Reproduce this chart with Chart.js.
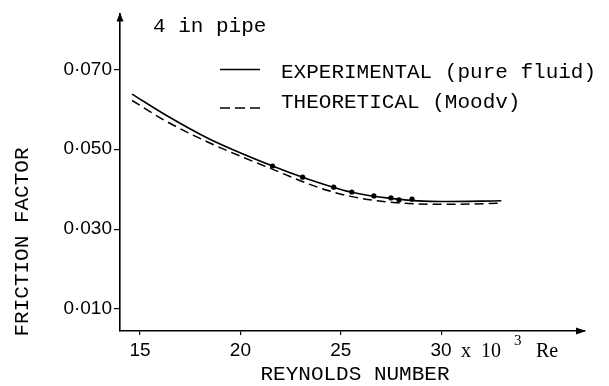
<!DOCTYPE html>
<html>
<head>
<meta charset="utf-8">
<script src="https://cdn.jsdelivr.net/npm/chart.js@4.4.1/dist/chart.umd.min.js"></script>
<style>
  html, body { margin: 0; padding: 0; background: #fff; }
</style>
</head>
<body>
<canvas id="graphique" width="609" height="386"></canvas>
<script>
// courbe experimentale (trait plein)
const reynolds_exp = [14.6, 16.3, 18.4, 21.6, 23.1, 25.5, 27.5, 30.0, 33.0]
const friction_exp = [0.0638, 0.0585, 0.0527, 0.0458, 0.0430, 0.0393, 0.0377, 0.0369, 0.0371]
// courbe theorique Moody (tirets)
const reynolds_th = [14.6, 16.3, 18.5, 21.5, 23.85, 25.5, 27.8, 30.5, 33.0]
const friction_th = [0.0622, 0.0570, 0.0515, 0.0452, 0.0405, 0.0382, 0.0366, 0.0362, 0.0365]
// points mesures
const reynolds_pts = [21.6, 23.1, 24.65, 25.55, 26.65, 27.5, 27.9, 28.55]
const friction_pts = [0.0458, 0.0430, 0.0405, 0.0393, 0.0383, 0.0378, 0.0373, 0.0375]

const x_ticks = [15, 20, 25, 30]
const y_ticks = [0.010, 0.030, 0.050, 0.070]
const y_labels = ['0·010', '0·030', '0·050', '0·070']

const toPoints = (xs, ys) => xs.map((x, i) => ({ x: x, y: ys[i] }))

const MONO = '"Liberation Mono", "DejaVu Sans Mono", monospace'
const tickFont = { family: '"Liberation Sans", Arial, sans-serif', size: 19 }

const annotations = {
  id: 'annotations',
  afterDraw(chart) {
    const ctx = chart.ctx
    const a = chart.chartArea
    ctx.save()
    ctx.fillStyle = '#000'
    ctx.strokeStyle = '#000'

    // fleches des axes
    ctx.beginPath()
    ctx.moveTo(a.left, a.top - 1)
    ctx.lineTo(a.left - 3.5, a.top + 8)
    ctx.lineTo(a.left + 3.5, a.top + 8)
    ctx.closePath()
    ctx.fill()
    ctx.beginPath()
    ctx.moveTo(a.right + 1, a.bottom)
    ctx.lineTo(a.right - 9, a.bottom - 3.5)
    ctx.lineTo(a.right - 9, a.bottom + 3.5)
    ctx.closePath()
    ctx.fill()

    ctx.font = '21px ' + MONO
    ctx.textBaseline = 'middle'
    ctx.textAlign = 'left'
    ctx.fillText('4 in pipe', 153, 26)

    // legende
    ctx.lineWidth = 1.6
    ctx.beginPath()
    ctx.moveTo(220, 69.5)
    ctx.lineTo(260, 69.5)
    ctx.stroke()
    ctx.setLineDash([10, 5])
    ctx.beginPath()
    ctx.moveTo(220, 108)
    ctx.lineTo(262, 108)
    ctx.stroke()
    ctx.setLineDash([])
    ctx.fillText('EXPERIMENTAL (pure fluid)', 281, 72)
    ctx.fillText('THEORETICAL (Moodv)', 281, 102)

    // titres des axes
    ctx.textAlign = 'center'
    ctx.fillText('REYNOLDS NUMBER', 355, 374)
    ctx.save()
    ctx.translate(22, 242)
    ctx.rotate(-Math.PI / 2)
    ctx.fillText('FRICTION FACTOR', 0, 0)
    ctx.restore()

    // x 10^3 Re
    ctx.textAlign = 'left'
    ctx.font = '20px "Liberation Serif", serif'
    ctx.fillText('x  10', 461, 352)
    ctx.fillText('Re', 536, 352)
    ctx.font = '15px "Liberation Serif", serif'
    ctx.fillText('3', 514, 341)
    ctx.restore()
  }
}

const config = {
  type: 'line',
  data: {
    datasets: [{
      label: 'EXPERIMENTAL (pure fluid)',
      data: toPoints(reynolds_exp, friction_exp),
      borderColor: '#000',
      borderWidth: 1.6,
      pointRadius: 0,
      fill: false,
      cubicInterpolationMode: 'monotone'
    }, {
      label: 'THEORETICAL (Moodv)',
      data: toPoints(reynolds_th, friction_th),
      borderColor: '#000',
      borderWidth: 1.5,
      borderDash: [9, 5],
      pointRadius: 0,
      fill: false,
      cubicInterpolationMode: 'monotone'
    }, {
      label: 'points',
      data: toPoints(reynolds_pts, friction_pts),
      showLine: false,
      pointRadius: 2.6,
      pointBackgroundColor: '#000',
      pointBorderWidth: 0
    }]
  },
  options: {
    responsive: false,
    animation: false,
    layout: { padding: { top: 13, right: 24, left: 0, bottom: 0 } },
    plugins: {
      legend: { display: false },
      tooltip: { enabled: false }
    },
    scales: {
      x: {
        type: 'linear',
        min: 14.0,
        max: 37.17,
        afterFit: (s) => { s.height = 55 },
        afterBuildTicks: (s) => { s.ticks = x_ticks.map(v => ({ value: v })) },
        ticks: {
          autoSkip: false,
          maxRotation: 0,
          padding: 4,
          color: '#000',
          font: tickFont,
          callback: (v) => String(v)
        },
        grid: { drawOnChartArea: false, drawTicks: true, tickLength: 4, color: '#000', lineWidth: 1.2 },
        border: { display: true, color: '#000', width: 1.6 }
      },
      y: {
        type: 'linear',
        min: 0.0045,
        max: 0.084,
        afterFit: (s) => { s.width = 120 },
        afterBuildTicks: (s) => { s.ticks = y_ticks.map(v => ({ value: v })) },
        ticks: {
          autoSkip: false,
          padding: 2,
          color: '#000',
          font: tickFont,
          callback: (v) => {
            const i = y_ticks.findIndex(t => Math.abs(t - v) < 1e-6)
            return i >= 0 ? y_labels[i] : ''
          }
        },
        grid: { drawOnChartArea: false, drawTicks: true, tickLength: 6, color: '#000', lineWidth: 1.2 },
        border: { display: true, color: '#000', width: 1.6 }
      }
    }
  },
  plugins: [annotations]
}

const chart = new Chart(document.querySelector('#graphique'), config)
</script>
</body>
</html>
